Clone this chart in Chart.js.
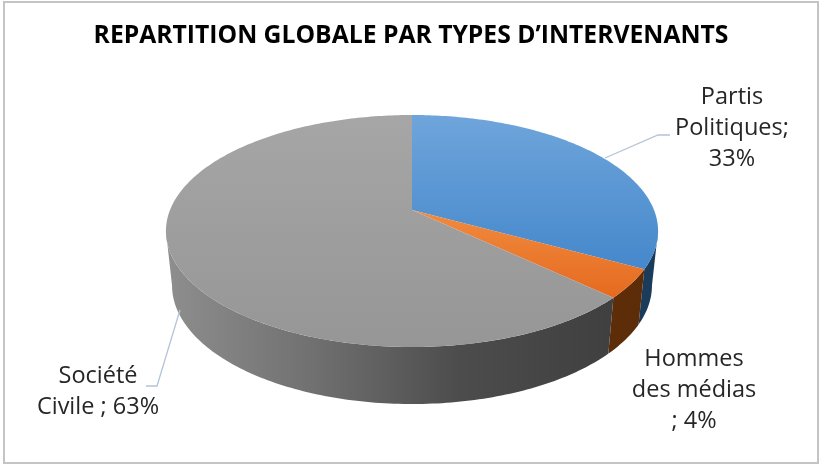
<!DOCTYPE html>
<html lang="en">
<head>
<meta charset="UTF-8">
<script src="https://cdn.jsdelivr.net/npm/chart.js"></script>
<style>
html, body { margin: 0; padding: 0; background: #fff; }
#wrap { position: absolute; left: 3px; top: 1px; width: 812px; height: 459px; border: 2px solid #c4c4c4; }
canvas { display: block; }
</style>
<title>Repartition globale</title>
</head>
<body>
<div id="wrap"><canvas id="pie" width="812" height="459"></canvas></div>
<script>
const categories = ['Partis Politiques', 'Hommes des médias', 'Société Civile'];
const shares = [33, 4, 63];
const labelLines = [
    ['Partis', 'Politiques;', '33%'],
    ['Hommes', 'des médias', '; 4%'],
    ['Société', 'Civile ; 63%']
];
const labelAnchors = [[727, 94], [689, 356], [93, 373]];

// canvas is offset 5px,3px from the page by the wrapper + border
const cx = 407;
// perspective of the disc: k is how much the far edge shrinks
const k = 0.181;
const topRing = { R: 242, y0: 207, H: 112.2 };
const botRing = { R: 236, y0: 261, H: 114.7 };
// walls only show between the two side tangents of the disc
const wallFrom = Math.asin(k);
const wallTo = Math.PI - wallFrom;

// arc angle -> point on a ring
function project(ring, angle) {
    const u = Math.cos(angle), v = -Math.sin(angle);
    const w = 1 + k * v;
    return [cx + ring.R * u / w, ring.y0 - ring.H * v / w];
}

function ringPath(ctx, ring, from, to) {
    const steps = Math.max(4, Math.ceil(Math.abs(to - from) * 60));
    for (let s = 0; s <= steps; s++) {
        const p = project(ring, from + (to - from) * s / steps);
        ctx.lineTo(p[0], p[1]);
    }
}

function hGrad(ctx, stops) {
    const g = ctx.createLinearGradient(cx - 245, 0, cx + 245, 0);
    stops.forEach(s => g.addColorStop(s[0], s[1]));
    return g;
}

function vGrad(ctx, y1, y2, c1, c2) {
    const g = ctx.createLinearGradient(0, y1, 0, y2);
    g.addColorStop(0, c1);
    g.addColorStop(1, c2);
    return g;
}

const disc3d = {
    id: 'disc3d',
    beforeDatasetsDraw(chart) {
        const ctx = chart.ctx;
        const arcs = chart.getDatasetMeta(0).data;
        const walls = [
            hGrad(ctx, [[0, '#1d4263'], [1, '#1a3c5a']]),
            hGrad(ctx, [[0, '#6b3409'], [1, '#5c2c08']]),
            hGrad(ctx, [[0, '#8e8e8e'], [0.3, '#707070'], [0.6, '#4c4c4c'], [1, '#3c3c3c']])
        ];
        const tops = [
            vGrad(ctx, 111, 270, '#6fa5db', '#4487cb'),
            vGrad(ctx, 210, 295, '#f08a3e', '#e56a1f'),
            vGrad(ctx, 111, 345, '#a6a6a6', '#969696')
        ];
        ctx.save();
        // walls first, then the top face
        arcs.forEach((arc, i) => {
            const from = Math.max(arc.startAngle, wallFrom);
            const to = Math.min(arc.endAngle, wallTo);
            if (to <= from) return;
            ctx.fillStyle = walls[i];
            ctx.beginPath();
            ringPath(ctx, topRing, from, to);
            ringPath(ctx, botRing, to, from);
            ctx.closePath();
            ctx.fill();
        });
        arcs.forEach((arc, i) => {
            ctx.fillStyle = tops[i];
            ctx.beginPath();
            ctx.moveTo(cx, topRing.y0);
            ringPath(ctx, topRing, arc.startAngle, arc.endAngle);
            ctx.closePath();
            ctx.fill();
        });
        ctx.restore();
        return false;
    },
    afterDraw(chart) {
        const ctx = chart.ctx;
        ctx.save();
        ctx.strokeStyle = '#b4c4d8';
        ctx.lineWidth = 1.3;
        ctx.beginPath();
        ctx.moveTo(600, 155); ctx.lineTo(653, 132); ctx.lineTo(665, 132);
        ctx.moveTo(175, 307); ctx.lineTo(152, 383); ctx.lineTo(141, 383);
        ctx.stroke();
        ctx.fillStyle = '#262626';
        ctx.font = '23.5px "Open Sans", "DejaVu Sans", sans-serif';
        ctx.textAlign = 'center';
        ctx.textBaseline = 'middle';
        labelLines.forEach((lines, i) => {
            lines.forEach((t, n) => ctx.fillText(t, labelAnchors[i][0], labelAnchors[i][1] + n * 31));
        });
        ctx.restore();
    }
};

new Chart(document.getElementById('pie').getContext('2d'), {
    type: 'pie',
    data: {
        labels: categories,
        datasets: [{ data: shares, borderWidth: 0 }]
    },
    options: {
        responsive: false,
        animation: false,
        plugins: {
            legend: { display: false },
            tooltip: { enabled: false },
            title: {
                display: true,
                text: 'REPARTITION GLOBALE PAR TYPES D’INTERVENANTS',
                color: '#000',
                font: { family: '"Open Sans", "DejaVu Sans", sans-serif', size: 24.7, weight: 'bold' },
                padding: { top: 18, bottom: 0 }
            }
        }
    },
    plugins: [disc3d]
});
</script>
</body>
</html>
